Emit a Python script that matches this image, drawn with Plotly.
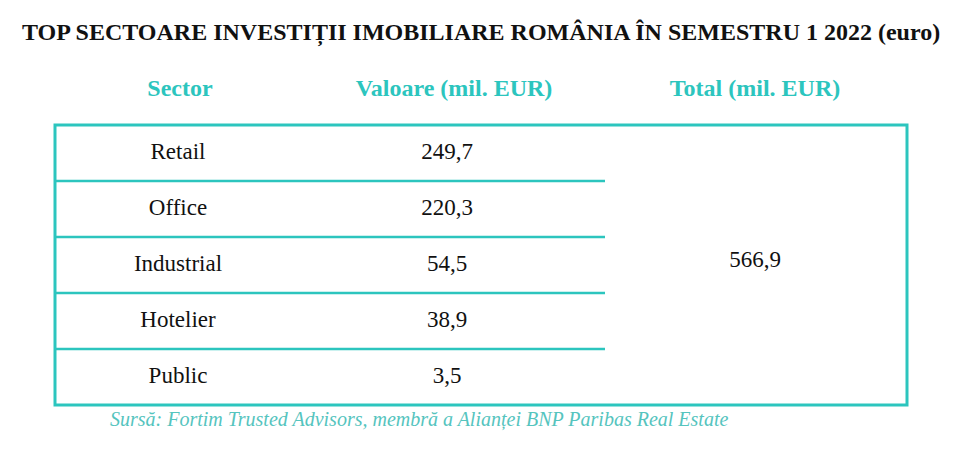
import plotly.graph_objects as go

TITLE = "TOP SECTOARE INVESTIȚII IMOBILIARE ROMÂNIA ÎN SEMESTRU 1 2022 (euro)"
HEADERS = ["Sector", "Valoare (mil. EUR)", "Total (mil. EUR)"]
SECTORS = ["Retail", "Office", "Industrial", "Hotelier", "Public"]
VALUES = [249.7, 220.3, 54.5, 38.9, 3.5]
TOTAL = 566.9
SOURCE = "Sursă: Fortim Trusted Advisors, membră a Alianței BNP Paribas Real Estate"

TEAL = "#2cc5be"
W, H = 976, 463
OFF = 8  # page body margin shifts the plot
TOP, BOT, LEFT, RIGHT, SPLIT = 125, 405, 55, 907, 605
ROW_H = (BOT - TOP) / len(SECTORS)


def ro(v):
    return "{:.1f}".format(v).replace(".", ",")


ys = [TOP + ROW_H * (i + 0.5) for i in range(len(SECTORS))]

fig = go.Figure()
font = dict(family="Liberation Serif", size=23, color="#111111")
fig.add_trace(go.Scatter(x=[178] * len(SECTORS), y=ys, text=SECTORS,
                         mode="text", textfont=font, hoverinfo="skip"))
fig.add_trace(go.Scatter(x=[447] * len(VALUES), y=ys, text=[ro(v) for v in VALUES],
                         mode="text", textfont=font, hoverinfo="skip"))
fig.add_trace(go.Scatter(x=[755], y=[(TOP + BOT) / 2 - 4], text=[ro(TOTAL)],
                         mode="text", textfont=font, hoverinfo="skip"))
fig.add_trace(go.Scatter(x=[180, 454, 755], y=[90] * 3,
                         text=["<b>%s</b>" % h for h in HEADERS], mode="text",
                         textfont=dict(family="Liberation Serif", size=24, color=TEAL),
                         hoverinfo="skip"))

fig.add_shape(type="rect", x0=LEFT, x1=RIGHT, y0=TOP, y1=BOT,
              line=dict(color=TEAL, width=3))
for i in range(1, len(SECTORS)):
    y = TOP + ROW_H * i
    fig.add_shape(type="line", x0=LEFT, x1=SPLIT, y0=y, y1=y,
                  line=dict(color=TEAL, width=2.5))

fig.add_annotation(x=481, y=33, text="<b>%s</b>" % TITLE, showarrow=False,
                   font=dict(family="Liberation Serif", size=24, color="#111111"))
fig.add_annotation(x=108, y=419, text="<i>%s</i>" % SOURCE, showarrow=False,
                   xanchor="left",
                   font=dict(family="Liberation Serif", size=20, color="#55c4be"))

fig.update_xaxes(range=[OFF, W + OFF], visible=False, fixedrange=True)
fig.update_yaxes(range=[H + OFF, OFF], visible=False, fixedrange=True)
fig.update_layout(width=W, height=H, margin=dict(l=0, r=0, t=0, b=0),
                  plot_bgcolor="white", paper_bgcolor="white", showlegend=False)
fig.write_html("out.html")
